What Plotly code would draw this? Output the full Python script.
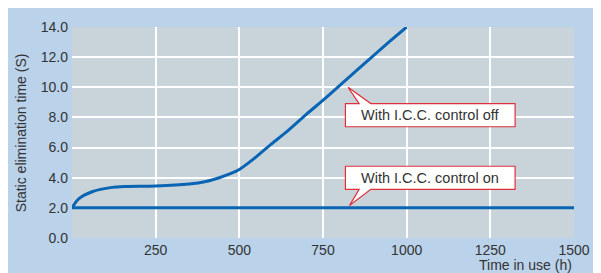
import plotly.graph_objects as go

# Data
hours_off = [0, 20, 60, 120, 160, 250, 350, 400, 440, 475, 500, 540, 590, 640, 700, 760, 860, 950, 1000]
time_off = [2.0, 2.6, 3.07, 3.36, 3.42, 3.45, 3.58, 3.75, 4.0, 4.28, 4.55, 5.2, 6.13, 7.02, 8.2, 9.33, 11.3, 13.06, 14.0]
hours_on = [0, 1500]
time_on = [2.0, 2.0]
x_ticks = [250, 500, 750, 1000, 1250, 1500]
y_ticks = [0, 2, 4, 6, 8, 10, 12, 14]
label_off = "With I.C.C. control off"
label_on = "With I.C.C. control on"

LINE = "#0a64b4"
TXT = "#333333"
RED = "#e0303c"
FONT = "Liberation Sans, Arial, sans-serif"

fig = go.Figure()
fig.add_trace(go.Scatter(x=hours_off, y=time_off, mode="lines",
                         line=dict(color=LINE, width=3, shape="spline", smoothing=0.8),
                         showlegend=False, hoverinfo="skip"))
fig.add_trace(go.Scatter(x=hours_on, y=time_on, mode="lines",
                         line=dict(color=LINE, width=3),
                         showlegend=False, hoverinfo="skip"))

# callout bubbles (box + pointer), in data coordinates
bx0, bx1 = 817, 1324
tb0, tb1 = 858, 893
off_top, off_bot = 8.92, 7.38
off_tip = (825, 10.0)
on_top, on_bot = 4.76, 3.23
on_tip = (829, 2.15)

path_off = (f"M {bx0},{off_top} L {tb0},{off_top} L {off_tip[0]},{off_tip[1]} L {tb1},{off_top} "
            f"L {bx1},{off_top} L {bx1},{off_bot} L {bx0},{off_bot} Z")
path_on = (f"M {bx0},{on_top} L {bx1},{on_top} L {bx1},{on_bot} L {tb1},{on_bot} "
           f"L {on_tip[0]},{on_tip[1]} L {tb0},{on_bot} L {bx0},{on_bot} Z")
for p in (path_off, path_on):
    fig.add_shape(type="path", path=p, xref="x", yref="y",
                  fillcolor="white", line=dict(color=RED, width=1.2), layer="above")

fig.add_annotation(x=(bx0 + bx1) / 2, y=(off_top + off_bot) / 2, text=label_off,
                   showarrow=False, font=dict(family=FONT, size=14.5, color=TXT))
fig.add_annotation(x=(bx0 + bx1) / 2, y=(on_top + on_bot) / 2, text=label_on,
                   showarrow=False, font=dict(family=FONT, size=14.5, color=TXT))

# axis titles
fig.add_annotation(xref="paper", yref="paper", x=1.0, y=-0.08, xanchor="right", yanchor="top",
                   text="Time in use (h)", showarrow=False,
                   font=dict(family=FONT, size=14, color=TXT))
fig.add_annotation(xref="paper", yref="paper", x=-0.102, y=0.5, xanchor="center", yanchor="middle",
                   textangle=-90, text="Static elimination time (S)", showarrow=False,
                   font=dict(family=FONT, size=14, color=TXT))

# page body has an 8px margin, so the figure is sized to sit inside the 601x273 window
fig.update_layout(
    width=593, height=265,
    margin=dict(l=64, r=20, t=11, b=35),
    paper_bgcolor="#bad2ea",
    plot_bgcolor="#c9d4da",
    font=dict(family=FONT, size=14, color=TXT),
    showlegend=False,
)
fig.update_xaxes(range=[0, 1500], tickvals=x_ticks, ticktext=[str(v) for v in x_ticks],
                 showgrid=True, gridcolor="white", gridwidth=1.5, zeroline=False,
                 showline=False, ticks="", ticklabelstandoff=2,
                 tickfont=dict(family=FONT, size=14, color=TXT))
fig.update_yaxes(range=[0, 14], tickvals=y_ticks, ticktext=[f"{v:.1f}" for v in y_ticks],
                 showgrid=True, gridcolor="white", gridwidth=1.5, zeroline=False,
                 showline=False, ticks="", ticklabelstandoff=3,
                 tickfont=dict(family=FONT, size=14, color=TXT))

fig.write_html("out.html")
